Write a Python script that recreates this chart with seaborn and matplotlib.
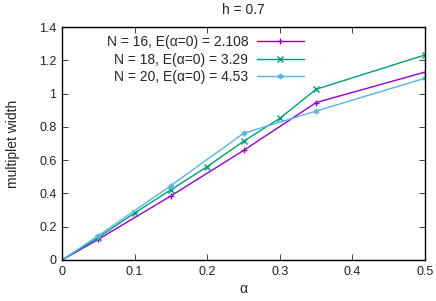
import numpy as np
import pandas as pd
import matplotlib
matplotlib.use("Agg")
import matplotlib.pyplot as plt
import seaborn as sns

# values
alpha_16 = [0, 0.05, 0.15, 0.25, 0.35, 0.5]
width_16 = [0, 0.124, 0.385, 0.658, 0.946, 1.129]

alpha_18 = [0, 0.05, 0.1, 0.15, 0.2, 0.25, 0.3, 0.35, 0.5]
width_18 = [0, 0.135, 0.282, 0.422, 0.561, 0.713, 0.851, 1.026, 1.232]

alpha_20 = [0, 0.05, 0.15, 0.25, 0.35, 0.5]
width_20 = [0, 0.146, 0.447, 0.761, 0.895, 1.092]

labels = ["N = 16, E(\u03b1=0) = 2.108",
          "N = 18, E(\u03b1=0) = 3.29",
          "N = 20, E(\u03b1=0) = 4.53"]
colors = ["#9400d3", "#009e73", "#56b4e9"]
markers = ["+", "x", (6, 2, 0)]

xticks = [0, 0.1, 0.2, 0.3, 0.4, 0.5]
xtick_labels = ["0", "0.1", "0.2", "0.3", "0.4", "0.5"]
yticks = [0, 0.2, 0.4, 0.6, 0.8, 1.0, 1.2, 1.4]
ytick_labels = ["0", "0.2", "0.4", "0.6", "0.8", "1", "1.2", "1.4"]

sns.set_style("ticks")
plt.rcParams["font.family"] = ["Liberation Sans", "DejaVu Sans"]
plt.rcParams["font.size"] = 9

fig = plt.figure(figsize=(4.36, 3.01), dpi=100)
ax = fig.add_axes([62 / 436, 1 - 260 / 301, (425 - 62) / 436, (260 - 27) / 301])

series = [(alpha_16, width_16), (alpha_18, width_18), (alpha_20, width_20)]
for (xs, ys), lab, c, m in zip(series, labels, colors, markers):
    df = pd.DataFrame({"alpha": xs, "width": ys})
    sns.lineplot(data=df, x="alpha", y="width", ax=ax, color=c, marker=m,
                 markersize=4, markeredgewidth=1, markeredgecolor=c,
                 linewidth=1, label=lab)

ax.set_xlim(0, 0.5)
ax.set_ylim(0, 1.4)
ax.set_xticks(xticks)
ax.set_xticklabels(xtick_labels)
ax.set_yticks(yticks)
ax.set_yticklabels(ytick_labels)
ax.tick_params(direction="in", length=4, width=0.6, top=True, right=True,
               labelsize=9, colors="#222222", pad=4)
for sp in ax.spines.values():
    sp.set_linewidth(1)
    sp.set_color("black")

ax.set_xlabel("\u03b1", fontsize=10, labelpad=3)
ax.set_ylabel("multiplet width", fontsize=10, labelpad=14)
ax.set_title("h = 0.7", fontsize=10, pad=9)

ax.legend(loc="upper left", bbox_to_anchor=(0.1, 1.0), frameon=False,
          markerfirst=False, handlelength=3.4, fontsize=10,
          labelspacing=0.25, handletextpad=0.6, borderaxespad=0.2)

fig.savefig("out.png", dpi=100)
